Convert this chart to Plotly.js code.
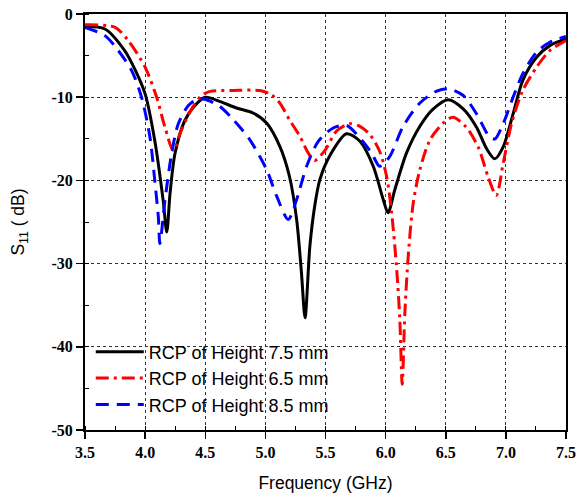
<!DOCTYPE html>
<html>
<head>
<meta charset="utf-8">
<script src="https://cdn.plot.ly/plotly-3.0.1.min.js"></script>
<style>html,body{margin:0;padding:0;background:#fff;}#chart{width:578px;height:494px;}</style>
</head>
<body>
<div id="chart"></div>
<script>
// Frequency (GHz) and S11 (dB) for each antenna height
const freq75 = [3.5,3.666,3.83,3.92,4.0,4.08,4.15,4.18,4.207,4.248,4.33,4.414,4.5,4.62,4.76,4.897,5.01,5.12,5.2,5.26,5.30,5.33,5.37,5.41,5.453,5.537,5.675,5.786,5.897,5.98,6.02,6.077,6.174,6.285,6.39,6.52,6.645,6.756,6.84,6.908,6.977,7.06,7.14,7.255,7.365,7.5];
const s11_75 = [-1.5,-1.8,-4.4,-6.8,-9.6,-15.2,-22.4,-26.2,-21.6,-16.8,-12.8,-11,-10.0,-10.5,-11.3,-11.9,-13.1,-15.9,-19.5,-24.7,-31.1,-36.5,-27.9,-23.1,-19.9,-17.0,-14.4,-15.3,-18.3,-22.3,-23.9,-21.1,-16.7,-13.5,-11.5,-10.3,-11.4,-13.6,-16.2,-17.4,-16,-12,-8,-5.2,-3.8,-3.0];

const freq65 = [3.5,3.75,3.86,4.0,4.096,4.165,4.234,4.30,4.387,4.47,4.54,4.73,4.955,5.05,5.12,5.2,5.287,5.356,5.41,5.495,5.59,5.70,5.786,5.87,5.95,6.008,6.05,6.09,6.118,6.138,6.16,6.19,6.23,6.285,6.37,6.48,6.56,6.67,6.77,6.853,6.92,6.977,7.047,7.14,7.255,7.365,7.5];
const s11_65 = [-1.3,-1.6,-3.2,-6.4,-10,-13.6,-16.4,-14,-11.4,-9.8,-9.3,-9.2,-9.2,-9.7,-10.7,-12.7,-14.7,-16.7,-17.6,-16.4,-14.1,-13.2,-13.5,-14.5,-16.5,-19.5,-23.9,-30.3,-36.7,-44.5,-35.9,-28.7,-22.7,-18.7,-15.1,-13.1,-12.4,-13.6,-16,-19.6,-21.8,-18,-13.2,-9.2,-6.4,-4.4,-3.2];

const freq85 = [3.5,3.666,3.777,3.888,3.97,4.04,4.08,4.11,4.123,4.165,4.22,4.276,4.36,4.44,4.51,4.62,4.733,4.87,5.01,5.094,5.19,5.26,5.343,5.44,5.564,5.675,5.786,5.883,5.95,6.035,6.146,6.285,6.42,6.52,6.645,6.756,6.866,6.91,6.977,7.06,7.14,7.255,7.365,7.5];
const s11_85 = [-1.6,-2.6,-4.4,-6.8,-10,-14.8,-20,-24.4,-27.6,-22.4,-16.8,-13.2,-11,-10.2,-10.3,-11.1,-12.7,-15.1,-18.7,-21.9,-24.7,-22.3,-18.3,-15.3,-13.7,-13.4,-14.9,-16.7,-18.3,-17.1,-13.5,-10.7,-9.3,-9.0,-9.8,-12,-14.8,-15.0,-13.2,-10,-7.2,-4.6,-3.4,-2.7];

const seriesNames = ["RCP of Height 7.5 mm","RCP of Height 6.5 mm","RCP of Height 8.5 mm"];
const xTicks = [3.5,4.0,4.5,5.0,5.5,6.0,6.5,7.0,7.5];
const xTickText = ["3.5","4.0","4.5","5.0","5.5","6.0","6.5","7.0","7.5"];
const yTicks = [0,-10,-20,-30,-40,-50];
const yTickText = ["0","-10","-20","-30","-40","-50"];

const traces = [
  {x: freq75, y: s11_75, name: seriesNames[0], type: 'scatter', mode: 'lines',
   line: {color: '#000000', width: 3, shape: 'spline', smoothing: 0.8}},
  {x: freq65, y: s11_65, name: seriesNames[1], type: 'scatter', mode: 'lines',
   line: {color: '#ff0000', width: 3, shape: 'spline', smoothing: 0.8, dash: '13px,5px,3px,5px'}},
  {x: freq85, y: s11_85, name: seriesNames[2], type: 'scatter', mode: 'lines',
   line: {color: '#0000ff', width: 3, shape: 'spline', smoothing: 0.8, dash: '13px,8px'}}
];

const tickFont = {family: '"Liberation Serif", "Times New Roman", serif', size: 16, color: '#000', weight: 'bold'};
const titleFont = {family: '"Liberation Sans", Arial, sans-serif', size: 17.5, color: '#000'};

const layout = {
  width: 578, height: 494,
  margin: {l: 85, r: 12, t: 14, b: 64},
  paper_bgcolor: '#fff', plot_bgcolor: '#fff',
  showlegend: true,
  legend: {x: 0.012, y: 0.232, xanchor: 'left', yanchor: 'top', bgcolor: 'rgba(0,0,0,0)',
           font: {family: '"Liberation Sans", Arial, sans-serif', size: 18, color: '#000'},
           itemwidth: 48, tracegroupgap: 0},
  xaxis: {
    range: [3.5, 7.5], tickvals: xTicks, ticktext: xTickText,
    ticks: 'outside', ticklen: 7, tickwidth: 1.5, tickcolor: '#000',
    showline: true, linecolor: '#000', linewidth: 2, mirror: true,
    showgrid: true, gridcolor: '#333', griddash: 'dot', gridwidth: 1,
    zeroline: false, tickfont: tickFont,
    minor: {dtick: 0.25, tick0: 3.5, ticks: 'inside', ticklen: 4, tickcolor: '#000', tickwidth: 1, showgrid: false},
    title: {text: 'Frequency (GHz)', font: titleFont, standoff: 17}
  },
  yaxis: {
    range: [-50, 0], tickvals: yTicks, ticktext: yTickText,
    ticks: 'outside', ticklen: 7, tickwidth: 1.5, tickcolor: '#000',
    showline: true, linecolor: '#000', linewidth: 2, mirror: true,
    showgrid: true, gridcolor: '#333', griddash: 'dot', gridwidth: 1,
    zeroline: false, tickfont: tickFont,
    minor: {dtick: 5, tick0: 0, ticks: 'inside', ticklen: 4, tickcolor: '#000', tickwidth: 1, showgrid: false},
    title: {text: 'S<sub>11</sub> ( dB)', font: titleFont, standoff: 22}
  },
  xaxis2: {
    overlaying: 'x', side: 'top', anchor: 'y', range: [3.5, 7.5],
    showticklabels: false, ticks: '', showgrid: false, zeroline: false, showline: false,
    minor: {dtick: 0.25, tick0: 3.5, ticks: 'inside', ticklen: 4, tickcolor: '#000', tickwidth: 1, showgrid: false}
  },
  yaxis2: {
    overlaying: 'y', side: 'right', anchor: 'x', range: [-50, 0],
    showticklabels: false, ticks: '', showgrid: false, zeroline: false, showline: false,
    minor: {dtick: 5, tick0: 0, ticks: 'inside', ticklen: 4, tickcolor: '#000', tickwidth: 1, showgrid: false}
  }
};

Plotly.newPlot('chart', traces, layout, {staticPlot: true, displayModeBar: false});
</script>
</body>
</html>
